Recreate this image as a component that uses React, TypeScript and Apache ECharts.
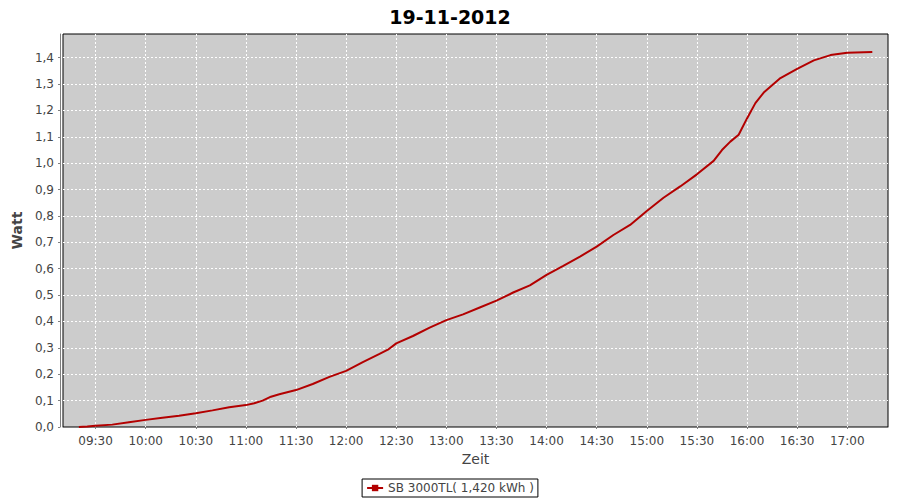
import React, { useEffect, useRef } from "react";
import * as echarts from "echarts";

const title = "19-11-2012";
const seriesName = "SB 3000TL( 1,420 kWh )";
const times = [
  "09:20", "09:25", "09:30", "09:40", "09:50", "10:00", "10:10", "10:20", "10:30", "10:40",
  "10:50", "11:00", "11:05", "11:10", "11:15", "11:20", "11:30", "11:40", "11:50", "12:00",
  "12:10", "12:20", "12:25", "12:30", "12:40", "12:50", "13:00", "13:10", "13:20", "13:30",
  "13:40", "13:50", "14:00", "14:10", "14:20", "14:30", "14:40", "14:50", "15:00", "15:10",
  "15:20", "15:30", "15:40", "15:45", "15:50", "15:55", "16:00", "16:05", "16:10", "16:20",
  "16:30", "16:40", "16:50", "17:00", "17:10", "17:15",
];
const values = [
  0.0, 0.002, 0.005, 0.009, 0.018, 0.027, 0.035, 0.043, 0.052, 0.063,
  0.075, 0.083, 0.09, 0.1, 0.115, 0.124, 0.14, 0.163, 0.19, 0.213,
  0.246, 0.277, 0.293, 0.317, 0.345, 0.377, 0.405, 0.427, 0.453, 0.479,
  0.51, 0.537, 0.577, 0.611, 0.646, 0.684, 0.728, 0.766, 0.819, 0.869,
  0.912, 0.958, 1.009, 1.05, 1.082, 1.108, 1.17, 1.228, 1.268, 1.323,
  1.358, 1.39, 1.41, 1.419, 1.421, 1.422,
];
const xTickLabels = [
  "09:30", "10:00", "10:30", "11:00", "11:30", "12:00", "12:30", "13:00",
  "13:30", "14:00", "14:30", "15:00", "15:30", "16:00", "16:30", "17:00",
];
const yTicks = [0, 0.1, 0.2, 0.3, 0.4, 0.5, 0.6, 0.7, 0.8, 0.9, 1.0, 1.1, 1.2, 1.3, 1.4];

const toMin = (s: string) => {
  const [h, m] = s.split(":").map(Number);
  return h * 60 + m;
};
const fmtMin = (v: number) => {
  const h = Math.floor(v / 60);
  const m = Math.round(v - h * 60);
  return String(h).padStart(2, "0") + ":" + String(m).padStart(2, "0");
};

export default function App() {
  const ref = useRef<HTMLDivElement>(null);
  useEffect(() => {
    if (!ref.current) return;
    const chart = echarts.init(ref.current, null, { renderer: "svg" });
    const font = "DejaVu Sans";
    const xTicks = xTickLabels.map(toMin);
    chart.setOption({
      animation: false,
      title: {
        text: title,
        left: "center",
        top: 2,
        textStyle: { fontFamily: font, fontSize: 19, fontWeight: "bold", color: "#000" },
      },
      legend: {
        bottom: 3,
        left: "center",
        itemWidth: 16,
        itemHeight: 8,
        itemGap: 4,
        padding: [3, 4, 3, 4],
        borderColor: "#000",
        borderWidth: 1,
        borderRadius: 0,
        textStyle: { fontFamily: font, fontSize: 12, color: "#444" },
      },
      grid: {
        left: 63,
        right: 12,
        top: 34,
        bottom: 73,
        show: true,
        backgroundColor: "#cccccc",
        borderColor: "#000",
        borderWidth: 1,
        containLabel: false,
      },
      xAxis: {
        type: "value",
        min: 550.5,
        max: 1044.4,
        offset: 4,
        name: "Zeit",
        nameLocation: "middle",
        nameGap: 21,
        nameTextStyle: { fontFamily: font, fontSize: 14, color: "#444" },
        axisLine: { show: true, lineStyle: { color: "#808080", width: 1 } },
        axisTick: { show: true, length: 2, lineStyle: { color: "#808080" }, customValues: xTicks },
        axisLabel: {
          customValues: xTicks,
          margin: 4,
          fontFamily: font,
          fontSize: 12,
          color: "#444",
          formatter: (v: number) => fmtMin(v),
        },
        splitLine: { show: true, lineStyle: { color: "#ffffff", type: [2, 2], width: 1 } },
      },
      yAxis: {
        type: "value",
        min: 0,
        max: 1.49,
        offset: 3,
        name: "Watt",
        nameLocation: "middle",
        nameGap: 34,
        nameTextStyle: { fontFamily: font, fontSize: 14, fontWeight: "bold", color: "#444" },
        axisLine: { show: true, lineStyle: { color: "#808080", width: 1 } },
        axisTick: { show: true, length: 2, lineStyle: { color: "#808080" }, customValues: yTicks },
        axisLabel: {
          customValues: yTicks,
          margin: 6,
          fontFamily: font,
          fontSize: 12,
          color: "#444",
          formatter: (v: number) => v.toFixed(1).replace(".", ","),
        },
        splitLine: { show: true, lineStyle: { color: "#ffffff", type: [2, 2], width: 1 } },
      },
      series: [
        {
          name: seriesName,
          type: "line",
          data: times.map((t, i) => [toMin(t), values[i]]),
          showSymbol: false,
          symbol: "rect",
          symbolSize: 3,
          lineStyle: { color: "#b30000", width: 2 },
          itemStyle: { color: "#b30000" },
        },
      ],
    });
    return () => chart.dispose();
  }, []);
  return (
    <div
      ref={ref}
      style={{ position: "absolute", left: 0, top: 0, width: 900, height: 500 }}
    />
  );
}
